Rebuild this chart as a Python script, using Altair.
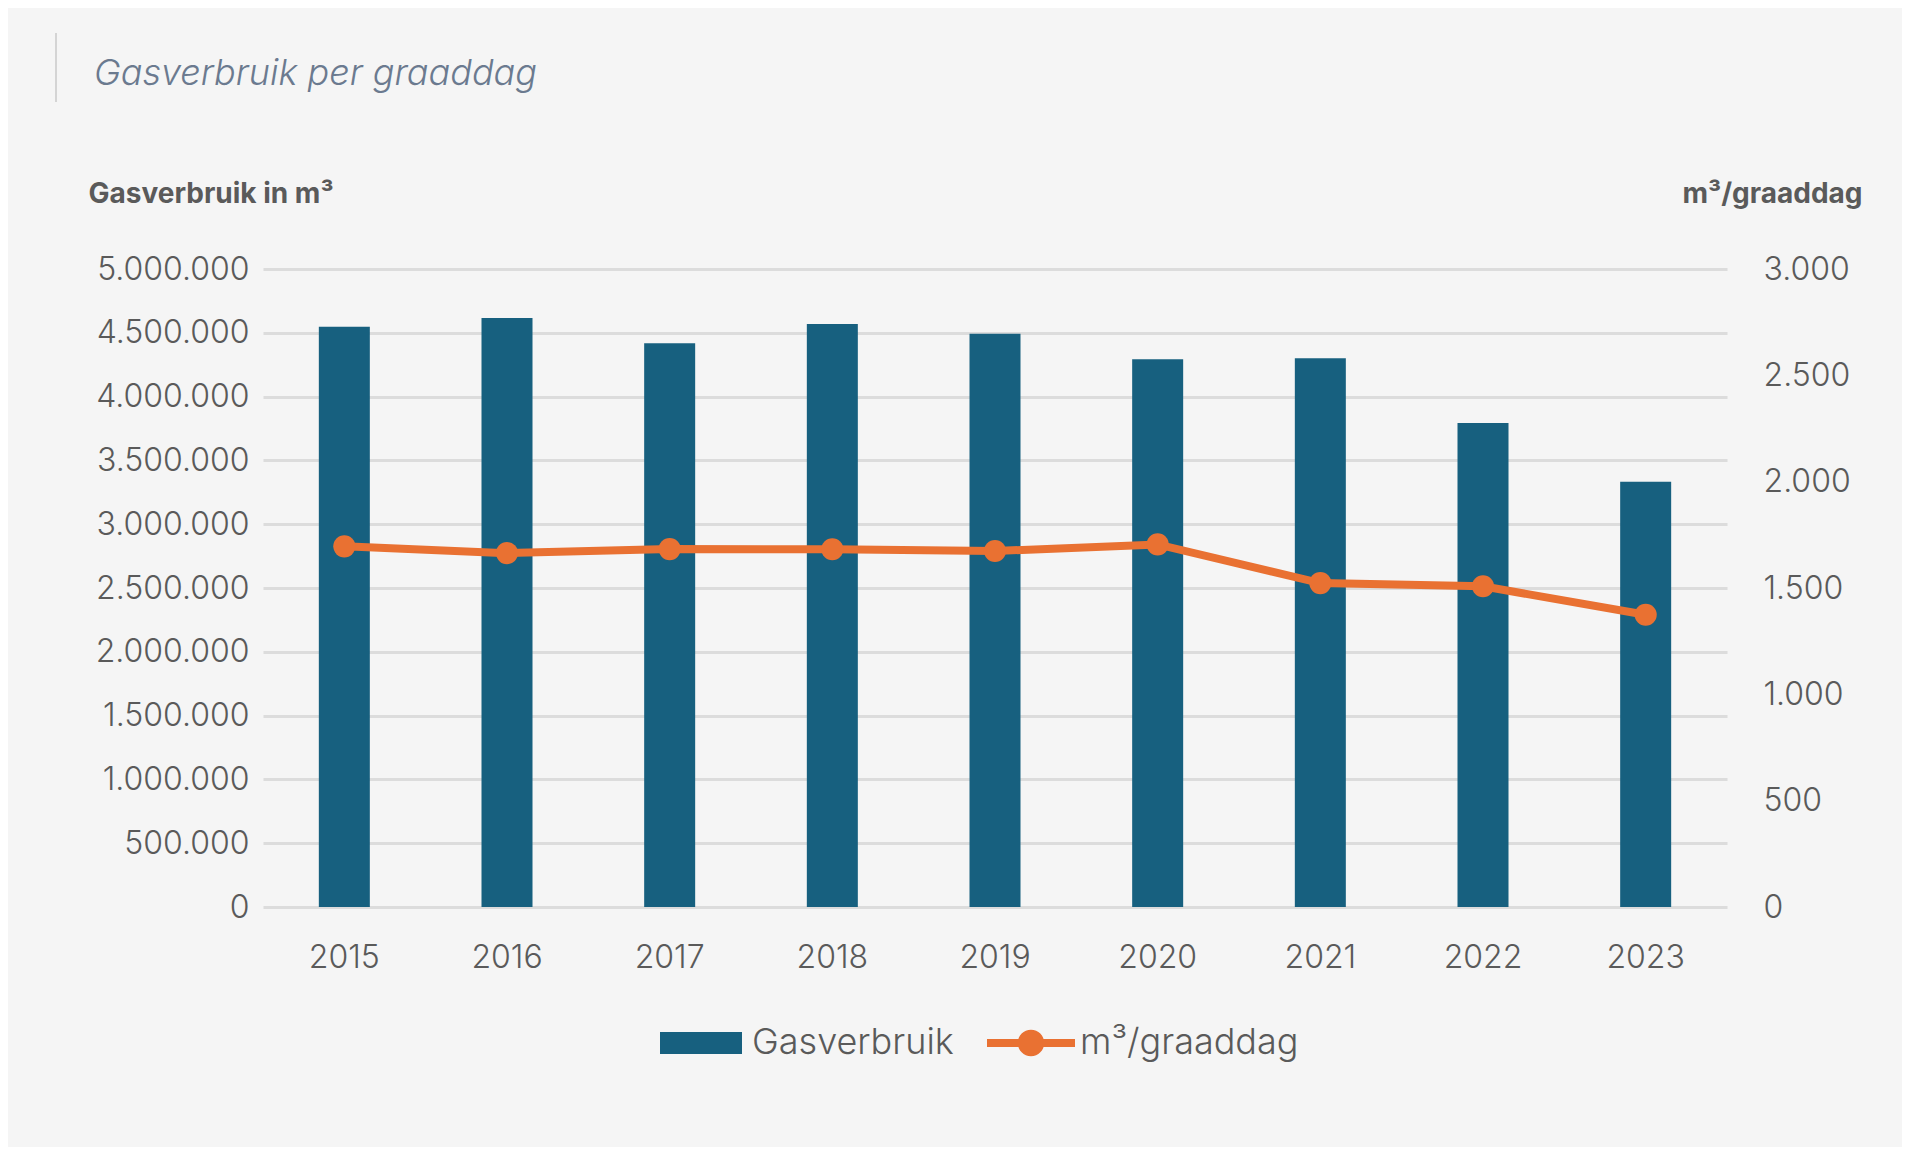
import pandas as pd
import altair as alt

# Gasverbruik per graaddag, 2015-2023
years = ["2015", "2016", "2017", "2018", "2019", "2020", "2021", "2022", "2023"]
gasverbruik = [4548000, 4616000, 4418000, 4569000, 4493000, 4292000, 4300000, 3793000, 3333000]
per_graaddag = [1696, 1664, 1683, 1682, 1674, 1705, 1523, 1508, 1374]

left_ticks = [0, 500000, 1000000, 1500000, 2000000, 2500000, 3000000, 3500000, 4000000, 4500000, 5000000]
right_ticks = [0, 500, 1000, 1500, 2000, 2500, 3000]

BLUE = "#17607F"
ORANGE = "#E97132"
TEXT = "#5A5A5A"
FONT = "Inter"

df = pd.DataFrame({
    "jaar": years,
    "gas": gasverbruik,
    "m3": per_graaddag,
    "s1": "Gasverbruik",
    "s2": "m³/graaddag",
})

# dutch thousands separator
dutch = "replace(format(datum.value, ','), regexp(',', 'g'), '.')"

base = alt.Chart(df).encode(
    x=alt.X("jaar:N", title=None, sort=years,
            axis=alt.Axis(labelAngle=0, labelFontSize=32, labelColor=TEXT, labelFont=FONT,
                          labelFontWeight=300, labelPadding=35, ticks=False, domain=False,
                          grid=False))
)

bars = base.mark_bar(size=51).encode(
    y=alt.Y("gas:Q", scale=alt.Scale(domain=[0, 5000000]),
            axis=alt.Axis(values=left_ticks, labelExpr=dutch, labelFontSize=32, labelColor=TEXT,
                          labelFont=FONT, labelFontWeight=300, labelPadding=14, ticks=False,
                          domain=False, grid=True, gridColor="#DCDCDC", gridWidth=3,
                          title="Gasverbruik in m³", titleAngle=0, titleAlign="left",
                          titleBaseline="middle", titleX=-175, titleY=-75, titleFontSize=28,
                          titleFont=FONT, titleFontWeight="bold", titleColor=TEXT)),
    color=alt.Color("s1:N", scale=alt.Scale(domain=["Gasverbruik"], range=[BLUE]),
                    legend=alt.Legend(orient="none", legendX=397, legendY=733, title=None,
                                      symbolType="M-1,-0.268H1V0.268H-1Z", symbolSize=6724,
                                      symbolStrokeWidth=0, labelFontSize=36, labelColor=TEXT,
                                      labelFont=FONT, labelFontWeight=300, labelOffset=10,
                                      labelLimit=400)),
)

line = base.mark_line(strokeWidth=8).encode(
    y=alt.Y("m3:Q", scale=alt.Scale(domain=[0, 3000]),
            axis=alt.Axis(orient="right", values=right_ticks, labelExpr=dutch, labelFontSize=32,
                          labelColor=TEXT, labelFont=FONT, labelFontWeight=300, labelPadding=36,
                          ticks=False, domain=False, grid=False,
                          title="m³/graaddag", titleAngle=0, titleAlign="right",
                          titleBaseline="middle", titleX=135, titleY=-75, titleFontSize=28,
                          titleFont=FONT, titleFontWeight="bold", titleColor=TEXT)),
    stroke=alt.Stroke("s2:N", scale=alt.Scale(domain=["m³/graaddag"], range=[ORANGE]),
                      legend=alt.Legend(orient="none", legendX=724, legendY=730, title=None,
                                        symbolType="M-1,-0.09H1V0.09H-1Z M0.3,0A0.3,0.3,0,1,1,-0.3,0A0.3,0.3,0,1,1,0.3,0Z",
                                        symbolSize=7744, symbolFillColor=ORANGE,
                                        symbolStrokeColor=ORANGE, symbolStrokeWidth=0,
                                        labelFontSize=36, labelColor=TEXT, labelFont=FONT,
                                        labelFontWeight=300, labelOffset=5, labelLimit=400)),
)

points = base.mark_circle(color=ORANGE, size=490, opacity=1).encode(
    y=alt.Y("m3:Q", scale=alt.Scale(domain=[0, 3000]), axis=None)
)

# thin vertical line left of the title
marker = alt.Chart(pd.DataFrame({"a": [0]})).mark_rule(color="#C8C8C8", strokeWidth=1.5).encode(
    x=alt.value(-207), y=alt.value(-236), y2=alt.value(-167)
)

chart = (
    alt.layer(bars, line, points, marker)
    .resolve_scale(y="independent", color="independent")
    .properties(
        width=1464,
        height=638,
        autosize=alt.AutoSizeParams(type="none"),
        padding={"left": 255, "top": 261, "right": 175, "bottom": 240},
        background="#F5F5F5",
        title=alt.Title("Gasverbruik per graaddag", anchor="start", frame="group", dx=-169,
                        dy=71, offset=10, fontSize=36, fontStyle="italic", fontWeight=300,
                        font=FONT, color="#6B7A8F"),
    )
    .configure_view(stroke=None)
)

chart.save("out.html", embed_options={"renderer": "svg", "actions": False})
